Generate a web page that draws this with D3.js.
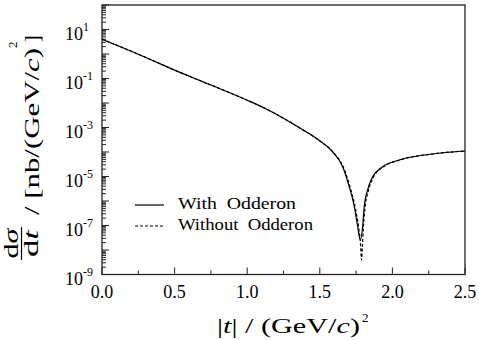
<!DOCTYPE html>
<html>
<head>
<meta charset="utf-8">
<script src="https://cdn.jsdelivr.net/npm/d3@7"></script>
<style>
  body { margin: 0; background: #fff; }
  svg text { font-family: "Liberation Serif", "Times New Roman", serif; fill: #000; }
</style>
</head>
<body>
<svg id="chart" width="479" height="340"></svg>
<script>
// |t| in (GeV/c)^2 and dsigma/dt in nb/(GeV/c)^2
const tWith = [0, 0.25, 0.5, 0.75, 1.0, 1.131, 1.25, 1.36, 1.497, 1.589, 1.657, 1.703, 1.738, 1.761, 1.779,
  1.795, 1.806, 1.829, 1.864, 1.932, 2.047, 2.276, 2.5];
const sigmaWith = [4.0, 0.98, 0.22, 5.4e-2, 1.3e-2, 5.7e-3, 2.4e-3, 9.8e-4, 2.95e-4, 1.0e-4, 2.5e-5, 3.8e-6, 5.9e-7, 8.9e-8, 2.6e-8,
  8.9e-8, 5.9e-7, 2.8e-6, 9.8e-6, 2.5e-5, 4.7e-5, 8.3e-5, 1.1e-4];

const tWithout = [0, 0.25, 0.5, 0.75, 1.0, 1.131, 1.25, 1.36, 1.5, 1.595, 1.665, 1.71, 1.745, 1.768, 1.782, 1.787,
  1.793, 1.8, 1.812, 1.836, 1.872, 1.94, 2.05, 2.276, 2.5];
const sigmaWithout = [4.0, 0.98, 0.22, 5.4e-2, 1.3e-2, 5.7e-3, 2.4e-3, 9.6e-4, 2.8e-4, 9.5e-5, 2.2e-5, 3.5e-6, 5.0e-7, 7.9e-8, 1.3e-8, 3.9e-9,
  1.3e-8, 7.9e-8, 5.6e-7, 2.8e-6, 1.0e-5, 2.5e-5, 4.7e-5, 8.3e-5, 1.1e-4];

const xMajorTicks = [0, 0.5, 1.0, 1.5, 2.0, 2.5];
const xMinorTicks = [0.25, 0.75, 1.25, 1.75, 2.25];
const xTickLabels = ["0.0", "0.5", "1.0", "1.5", "2.0", "2.5"];
const yLabelExponents = [1, -1, -3, -5, -7, -9];
const legendLabels = ["With  Odderon", "Without  Odderon"];

const plot = { left: 102, right: 465, top: 5, bottom: 274.5 };
const svg = d3.select('#chart');

const x = d3.scaleLinear().domain([0, 2.5]).range([plot.left, plot.right]);
const y = d3.scaleLog().domain([1e-9, 1e2]).range([plot.bottom, plot.top]);

// inner ticks on the left axis
const yTicks = y.ticks(100);
const isMajor = v => Math.abs(Math.log10(v) - Math.round(Math.log10(v))) < 1e-6;
svg.append('g').selectAll('line').data(yTicks).join('line')
  .attr('x1', plot.left).attr('x2', d => plot.left + (isMajor(d) ? 7 : 4))
  .attr('y1', d => y(d)).attr('y2', d => y(d))
  .attr('stroke', '#222').attr('stroke-width', 1);

// inner ticks on the bottom axis
svg.append('g').selectAll('line').data(xMajorTicks.concat(xMinorTicks)).join('line')
  .attr('x1', d => x(d)).attr('x2', d => x(d))
  .attr('y1', plot.bottom).attr('y2', d => plot.bottom - (xMajorTicks.includes(d) ? 7 : 4))
  .attr('stroke', '#222').attr('stroke-width', 1);

// frame
svg.append('rect')
  .attr('x', plot.left).attr('y', plot.top)
  .attr('width', plot.right - plot.left).attr('height', plot.bottom - plot.top)
  .attr('fill', 'none').attr('stroke', '#222').attr('stroke-width', 1.3);

// y tick labels: 10^n
const yLab = svg.append('g').selectAll('text').data(yLabelExponents).join('text')
  .attr('x', 65).attr('y', d => y(Math.pow(10, d)) + 10)
  .attr('font-size', 18);
yLab.append('tspan').text('10');
yLab.append('tspan').attr('font-size', 12).attr('dy', -9).text(d => d);

// x tick labels
svg.append('g').selectAll('text').data(xMajorTicks).join('text')
  .attr('x', d => x(d)).attr('y', 298)
  .attr('text-anchor', 'middle').attr('font-size', 18)
  .text((d, i) => xTickLabels[i]);

// curves
const line = d3.line().x(d => x(d[0])).y(d => y(d[1])).curve(d3.curveMonotoneX);
svg.append('path').datum(d3.zip(tWith, sigmaWith))
  .attr('d', line).attr('fill', 'none').attr('stroke', '#000').attr('stroke-width', 1.2);
svg.append('path').datum(d3.zip(tWithout, sigmaWithout))
  .attr('d', line).attr('fill', 'none').attr('stroke', '#000').attr('stroke-width', 1.2)
  .attr('stroke-dasharray', '3,2');

// legend
const legend = svg.append('g');
legendLabels.forEach((label, i) => {
  const ly = 205 + i * 21;
  legend.append('line').attr('x1', 135).attr('x2', 164).attr('y1', ly).attr('y2', ly)
    .attr('stroke', '#000').attr('stroke-width', 1.2)
    .attr('stroke-dasharray', i === 0 ? null : '3,2');
  legend.append('text').attr('x', 178).attr('y', ly + 4).attr('font-size', 17)
    .attr('textLength', i === 0 ? 118 : 135).attr('lengthAdjust', 'spacingAndGlyphs')
    .style('white-space', 'pre').text(label);
});

// x title
const xt = svg.append('text').attr('x', 217).attr('y', 333).attr('font-size', 20)
  .attr('textLength', 143).attr('lengthAdjust', 'spacingAndGlyphs');
xt.append('tspan').text('|');
xt.append('tspan').attr('font-style', 'italic').text('t');
xt.append('tspan').text('| / (GeV/');
xt.append('tspan').attr('font-style', 'italic').text('c');
xt.append('tspan').text(')');
svg.append('text').attr('x', 362).attr('y', 322).attr('font-size', 13).text('2');

// y title, rotated
const yt = svg.append('g').attr('transform', 'translate(39,262) rotate(-90)');
const num = yt.append('text').attr('x', 18.5).attr('y', -21).attr('text-anchor', 'middle')
  .attr('font-size', 21).attr('textLength', 30).attr('lengthAdjust', 'spacingAndGlyphs');
num.append('tspan').text('d');
num.append('tspan').attr('font-style', 'italic').text('σ');
yt.append('line').attr('x1', 2).attr('x2', 35).attr('y1', -17.5).attr('y2', -17.5)
  .attr('stroke', '#000').attr('stroke-width', 1.2);
const den = yt.append('text').attr('x', 18.5).attr('y', -1).attr('text-anchor', 'middle')
  .attr('font-size', 21).attr('textLength', 27).attr('lengthAdjust', 'spacingAndGlyphs');
den.append('tspan').text('d');
den.append('tspan').attr('font-style', 'italic').text('t');
const unit = yt.append('text').attr('x', 47).attr('y', 0).attr('font-size', 20)
  .attr('textLength', 167).attr('lengthAdjust', 'spacingAndGlyphs');
unit.append('tspan').text('/ [nb/(GeV/');
unit.append('tspan').attr('font-style', 'italic').text('c');
unit.append('tspan').text(')');
yt.append('text').attr('x', 214).attr('y', -22).attr('font-size', 13).text('2');
yt.append('text').attr('x', 220).attr('y', 0).attr('font-size', 20).text(']');
</script>
</body>
</html>
